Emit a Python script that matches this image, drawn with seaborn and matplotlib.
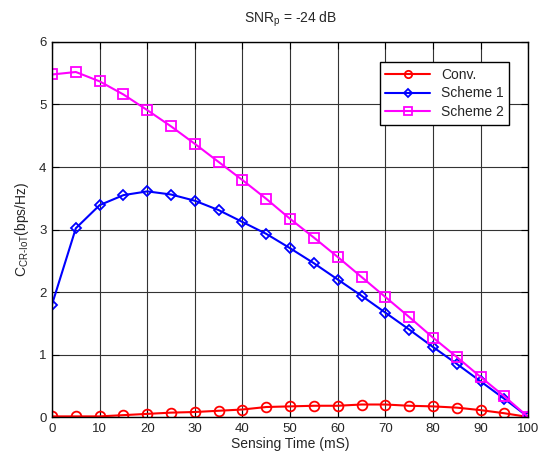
import numpy as np
import pandas as pd
import seaborn as sns
import matplotlib
matplotlib.use("Agg")
import matplotlib.pyplot as plt

sensing_time = [0, 5, 10, 15, 20, 25, 30, 35, 40, 45, 50, 55, 60, 65, 70, 75, 80, 85, 90, 95, 100]
conv = [0.01, 0.01, 0.01, 0.03, 0.05, 0.07, 0.08, 0.10, 0.12, 0.16, 0.17, 0.18, 0.18, 0.20, 0.20,
        0.18, 0.17, 0.15, 0.11, 0.06, 0.0]
scheme1 = [1.80, 3.02, 3.39, 3.55, 3.61, 3.56, 3.46, 3.31, 3.12, 2.93, 2.70, 2.46, 2.20, 1.94, 1.67,
           1.40, 1.12, 0.85, 0.57, 0.29, 0.0]
scheme2 = [5.48, 5.52, 5.37, 5.16, 4.91, 4.65, 4.37, 4.08, 3.79, 3.49, 3.17, 2.87, 2.56, 2.24, 1.92,
           1.60, 1.27, 0.96, 0.64, 0.33, 0.0]
series_names = ["Conv.", "Scheme 1", "Scheme 2"]
xticks = list(range(0, 101, 10))
yticks = list(range(0, 7))

sns.set_style("white")
plt.rcParams['font.family'] = ['Liberation Sans', 'DejaVu Sans']
plt.rcParams['mathtext.fontset'] = 'custom'
plt.rcParams['mathtext.rm'] = 'Liberation Sans'
plt.rcParams['mathtext.it'] = 'Liberation Sans'

fig = plt.figure(figsize=(5.39, 4.55), dpi=100)
ax = fig.add_axes([0.0965, 0.0835, 0.8835, 0.8242])

styles = [("red", "o", 7), ("blue", "D", 5.5), ("magenta", "s", 7)]
for name, vals, (col, mk, ms) in zip(series_names, [conv, scheme1, scheme2], styles):
    df = pd.DataFrame({"t": sensing_time, "v": vals})
    sns.lineplot(data=df, x="t", y="v", ax=ax, color=col, marker=mk,
                 markersize=ms, markerfacecolor="none",
                 markeredgecolor=col, markeredgewidth=1.3, linewidth=1.5, label=name)

ax.set_xlim(0, 100)
ax.set_ylim(0, 6)
ax.set_xticks(xticks)
ax.set_yticks(yticks)
ax.grid(True, color="#333333", linewidth=0.8)
ax.set_axisbelow(True)
for s in ax.spines.values():
    s.set_color("black")
    s.set_linewidth(1.0)
ax.tick_params(direction="in", length=5, top=True, right=True, labelsize=9.5, pad=4,
               bottom=True, left=True, color="black")
ax.set_title(r"SNR$_\mathregular{p}$ = -24 dB", fontsize=10, pad=14)
ax.set_xlabel("Sensing Time (mS)", fontsize=10, labelpad=2)
ax.set_ylabel(r"C$_\mathregular{CR\text{-}IoT}$(bps/Hz)", fontsize=10, labelpad=6)

leg = ax.legend(loc="upper right", bbox_to_anchor=(0.975, 0.965), fontsize=10, frameon=True,
                fancybox=False, edgecolor="black", framealpha=1, borderpad=0.4,
                handlelength=3.2, labelspacing=0.35, markerscale=0.75)
leg.get_frame().set_linewidth(1.0)

fig.savefig("out.png", dpi=100)
